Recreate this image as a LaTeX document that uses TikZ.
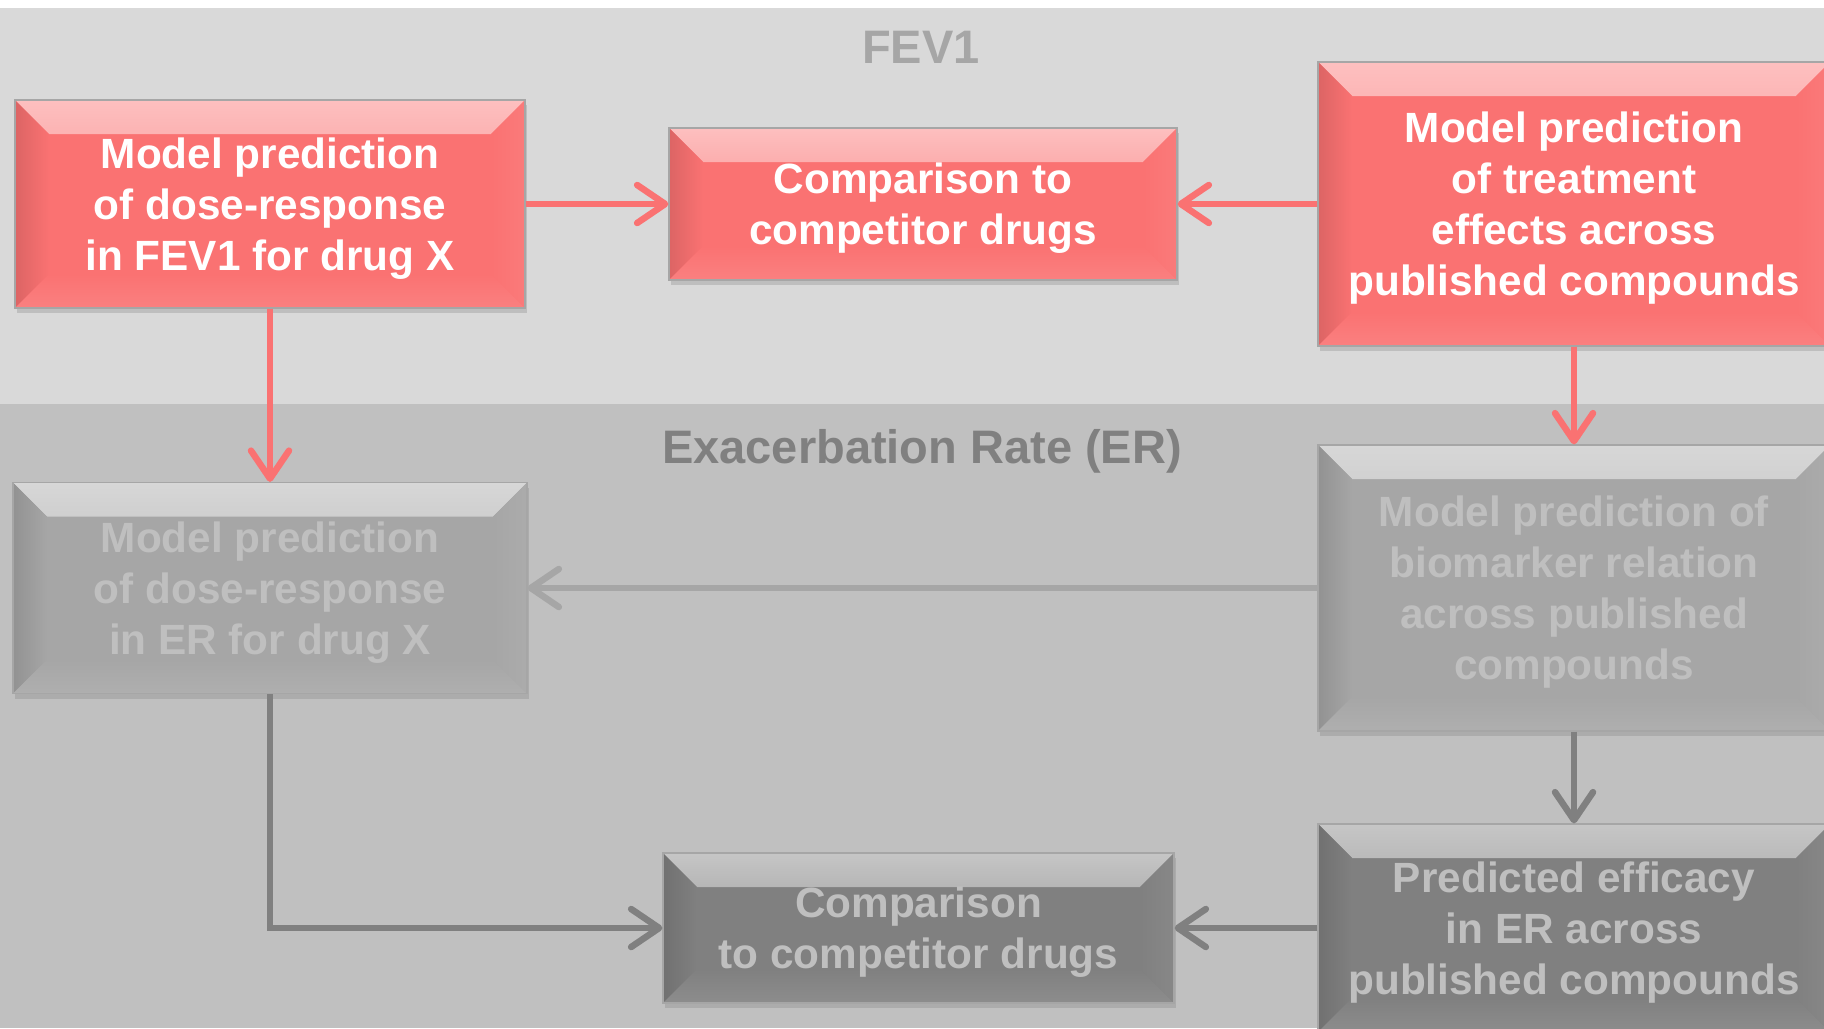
\documentclass[tikz,border=0pt]{standalone}
\usepackage{fontspec}
\setmainfont{Liberation Sans}
\usepackage{xcolor}
\usetikzlibrary{arrows.meta,shadows}

\definecolor{fevred}{HTML}{FA7272}
\definecolor{bandlight}{HTML}{D9D9D9}
\definecolor{banddark}{HTML}{C0C0C0}
\definecolor{greyA}{HTML}{A6A6A6}
\definecolor{greyB}{HTML}{808080}
\definecolor{greytext}{HTML}{BFBFBF}

\newlength{\bevw}\setlength{\bevw}{17pt}

\tikzset{
  bevelbox/.style={
    rectangle, fill=#1, draw=black!35, line width=0.6pt,
    align=center, inner sep=0pt, text depth=0pt,
    font=\bfseries\fontsize{21.15pt}{25.5pt}\selectfont,
    drop shadow={shadow xshift=1pt, shadow yshift=-2.5pt, opacity=.3},
    path picture={
      % top face
      \shade[top color=white!55!#1, middle color=white!12!#1, bottom color=#1]
        (path picture bounding box.north west) -- (path picture bounding box.north east)
        -- ([shift={(-\bevw,-\bevw)}]path picture bounding box.north east)
        -- ([shift={(\bevw,-\bevw)}]path picture bounding box.north west) -- cycle;
      % left face
      \shade[left color=black!12!#1, right color=#1]
        (path picture bounding box.north west) -- ([shift={(\bevw,-\bevw)}]path picture bounding box.north west)
        -- ([shift={(\bevw,\bevw)}]path picture bounding box.south west)
        -- (path picture bounding box.south west) -- cycle;
      % bottom face
      \shade[top color=#1, bottom color=white!10!#1]
        (path picture bounding box.south west) -- ([shift={(\bevw,\bevw)}]path picture bounding box.south west)
        -- ([shift={(-\bevw,\bevw)}]path picture bounding box.south east)
        -- (path picture bounding box.south east) -- cycle;
      % right face
      \shade[left color=#1, right color=white!6!#1]
        (path picture bounding box.north east) -- ([shift={(-\bevw,-\bevw)}]path picture bounding box.north east)
        -- ([shift={(-\bevw,\bevw)}]path picture bounding box.south east)
        -- (path picture bounding box.south east) -- cycle;
    }
  },
  redbox/.style={bevelbox=fevred, text=white},
  lightbox/.style={bevelbox=greyA, text=greytext},
  darkbox/.style={bevelbox=greyB, text=greytext},
  bandhead/.style={font=\bfseries\fontsize{23.5pt}{28pt}\selectfont},
  flow/.style={line width=3.25pt, -{Straight Barb[length=14pt,width=19pt,round]}},
  redarrow/.style={flow, draw=fevred},
  lightarrow/.style={flow, draw=greyA},
  darkarrow/.style={flow, draw=greyB},
}

\begin{document}
\begin{tikzpicture}[x=0.5pt,y=-0.5pt]
  \clip (0,0) rectangle (1824,1028);
  \fill[white] (0,0) rectangle (1824,1028);
  % bands
  \fill[bandlight] (0,8) rectangle (1824,404);
  \fill[banddark] (0,404) rectangle (1824,1028);
  \node[bandhead, text=greyA] (fevhead) at (921,47) {FEV1};
  \node[bandhead, text=greyB] (erhead) at (922,451) {Exacerbation Rate (ER)};

  % FEV1 row
  \node[redbox, minimum width=255pt, minimum height=104pt] (fevdose) at (270,204)
    {Model prediction\\of dose-response\\in FEV1 for drug X};
  \node[redbox, minimum width=254pt, minimum height=76pt] (fevcomp) at (923,204)
    {Comparison to\\competitor drugs};
  \node[redbox, minimum width=256pt, minimum height=142pt] (fevpub) at (1574,204)
    {Model prediction\\of treatment\\effects across\\published compounds};

  % ER rows
  \node[lightbox, minimum width=257pt, minimum height=105.5pt] (erdose) at (270,588)
    {Model prediction\\of dose-response\\in ER for drug X};
  \node[lightbox, minimum width=256pt, minimum height=143pt] (erbio) at (1574,588)
    {Model prediction of\\biomarker relation\\across published\\compounds};
  \node[darkbox, minimum width=256pt, minimum height=104pt] (erpred) at (1574,928)
    {Predicted efficacy\\in ER across\\published compounds};
  \node[darkbox, minimum width=255.5pt, minimum height=75pt] (ercomp) at (918.5,928)
    {Comparison\\to competitor drugs};

  % connectors
  \draw[redarrow] (fevdose.east) -- (fevcomp.west);
  \draw[redarrow] (fevpub.west) -- (fevcomp.east);
  \draw[redarrow] (fevdose.south) -- (erdose.north);
  \draw[redarrow] (fevpub.south) -- (erbio.north);
  \draw[lightarrow] (erbio.west) -- (erdose.east);
  \draw[darkarrow] (erdose.south) |- (ercomp.west);
  \draw[darkarrow] (erbio.south) -- (erpred.north);
  \draw[darkarrow] (erpred.west) -- (ercomp.east);
\end{tikzpicture}
\end{document}
